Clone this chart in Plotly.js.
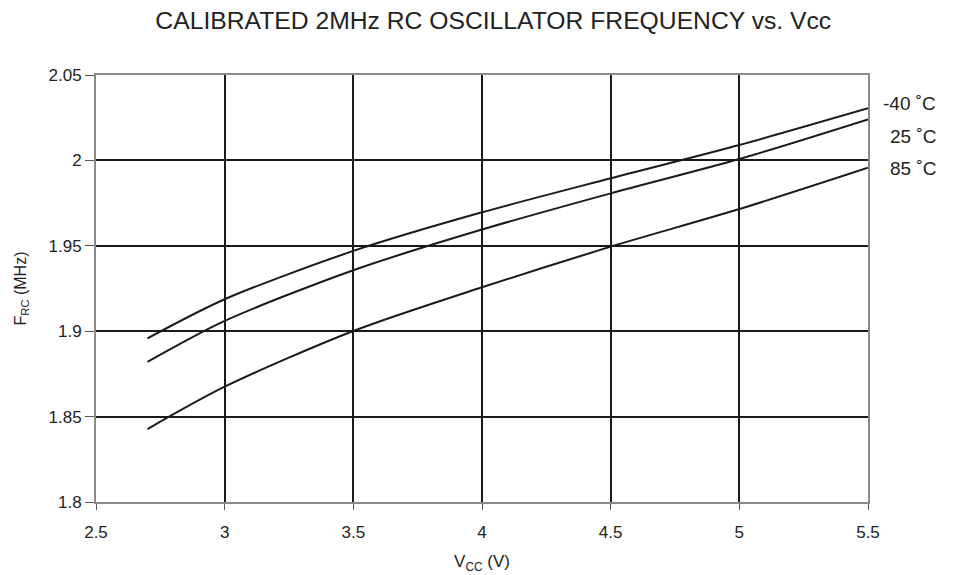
<!DOCTYPE html>
<html>
<head>
<meta charset="utf-8">
<script src="https://cdn.plot.ly/plotly-3.0.1.min.js"></script>
<style>html,body{margin:0;padding:0;background:#fff;}#chart{width:956px;height:575px;}</style>
</head>
<body>
<div id="chart"></div>
<script>
var vcc = [2.7, 3.0, 3.5, 4.0, 4.5, 5.0, 5.5];
var fMinus40 = [1.8958, 1.9187, 1.9470, 1.9696, 1.9895, 2.0090, 2.0305];
var f25 = [1.8820, 1.9060, 1.9357, 1.9595, 1.9807, 2.0008, 2.0240];
var f85 = [1.8427, 1.8675, 1.9001, 1.9257, 1.9495, 1.9715, 1.9957];
var seriesLabels = ['-40 \u02DAC', '25 \u02DAC', '85 \u02DAC'];
var labelY = [2.0334, 2.0141, 1.9950];

var font = 'Liberation Sans, Arial, sans-serif';
var series = [fMinus40, f25, f85];
var traces = series.map(function (ys, i) {
  return {
    x: vcc, y: ys, type: 'scatter', mode: 'lines', name: seriesLabels[i],
    line: {color: '#1a1a1a', width: 2, shape: 'spline', smoothing: 0.8},
    hoverinfo: 'skip'
  };
});
var annotations = seriesLabels.map(function (t, i) {
  return {
    text: t, xref: 'paper', yref: 'y', x: 1.0907, y: labelY[i],
    xanchor: 'right', yanchor: 'middle', showarrow: false,
    font: {family: font, size: 19, color: '#222'}
  };
});
var layout = {
  width: 956, height: 575,
  margin: {l: 96, r: 88, t: 75, b: 73},
  paper_bgcolor: '#fff', plot_bgcolor: '#fff',
  showlegend: false,
  title: {text: 'CALIBRATED 2MHz RC OSCILLATOR FREQUENCY vs. Vcc',
          font: {family: font, size: 24.7, color: '#222'},
          x: 0.516, xanchor: 'center', y: 0.965, yanchor: 'middle'},
  xaxis: {
    range: [2.5, 5.5], tickvals: [2.5, 3, 3.5, 4, 4.5, 5, 5.5],
    ticktext: ['2.5', '3', '3.5', '4', '4.5', '5', '5.5'],
    showgrid: true, gridcolor: '#1a1a1a', gridwidth: 2,
    showline: true, linecolor: '#8a8a8a', linewidth: 2, mirror: true,
    ticks: 'outside', ticklen: 6, tickcolor: '#555', tickwidth: 1,
    ticklabelstandoff: 8,
    tickfont: {family: font, size: 17, color: '#222'},
    zeroline: false,
    title: {text: 'V<sub>CC</sub> (V)', font: {family: font, size: 17, color: '#222'}, standoff: 14}
  },
  yaxis: {
    range: [1.8, 2.05], tickvals: [1.8, 1.85, 1.9, 1.95, 2, 2.05],
    ticktext: ['1.8', '1.85', '1.9', '1.95', '2', '2.05'],
    showgrid: true, gridcolor: '#1a1a1a', gridwidth: 2,
    showline: true, linecolor: '#8a8a8a', linewidth: 2, mirror: true,
    ticks: 'outside', ticklen: 9, tickcolor: '#555', tickwidth: 1,
    tickfont: {family: font, size: 17, color: '#222'},
    zeroline: false,
    title: {text: 'F<sub>RC</sub> (MHz)', font: {family: font, size: 16, color: '#222'}, standoff: 18}
  },
  annotations: annotations
};
Plotly.newPlot('chart', traces, layout, {displayModeBar: false, staticPlot: true});
</script>
</body>
</html>
